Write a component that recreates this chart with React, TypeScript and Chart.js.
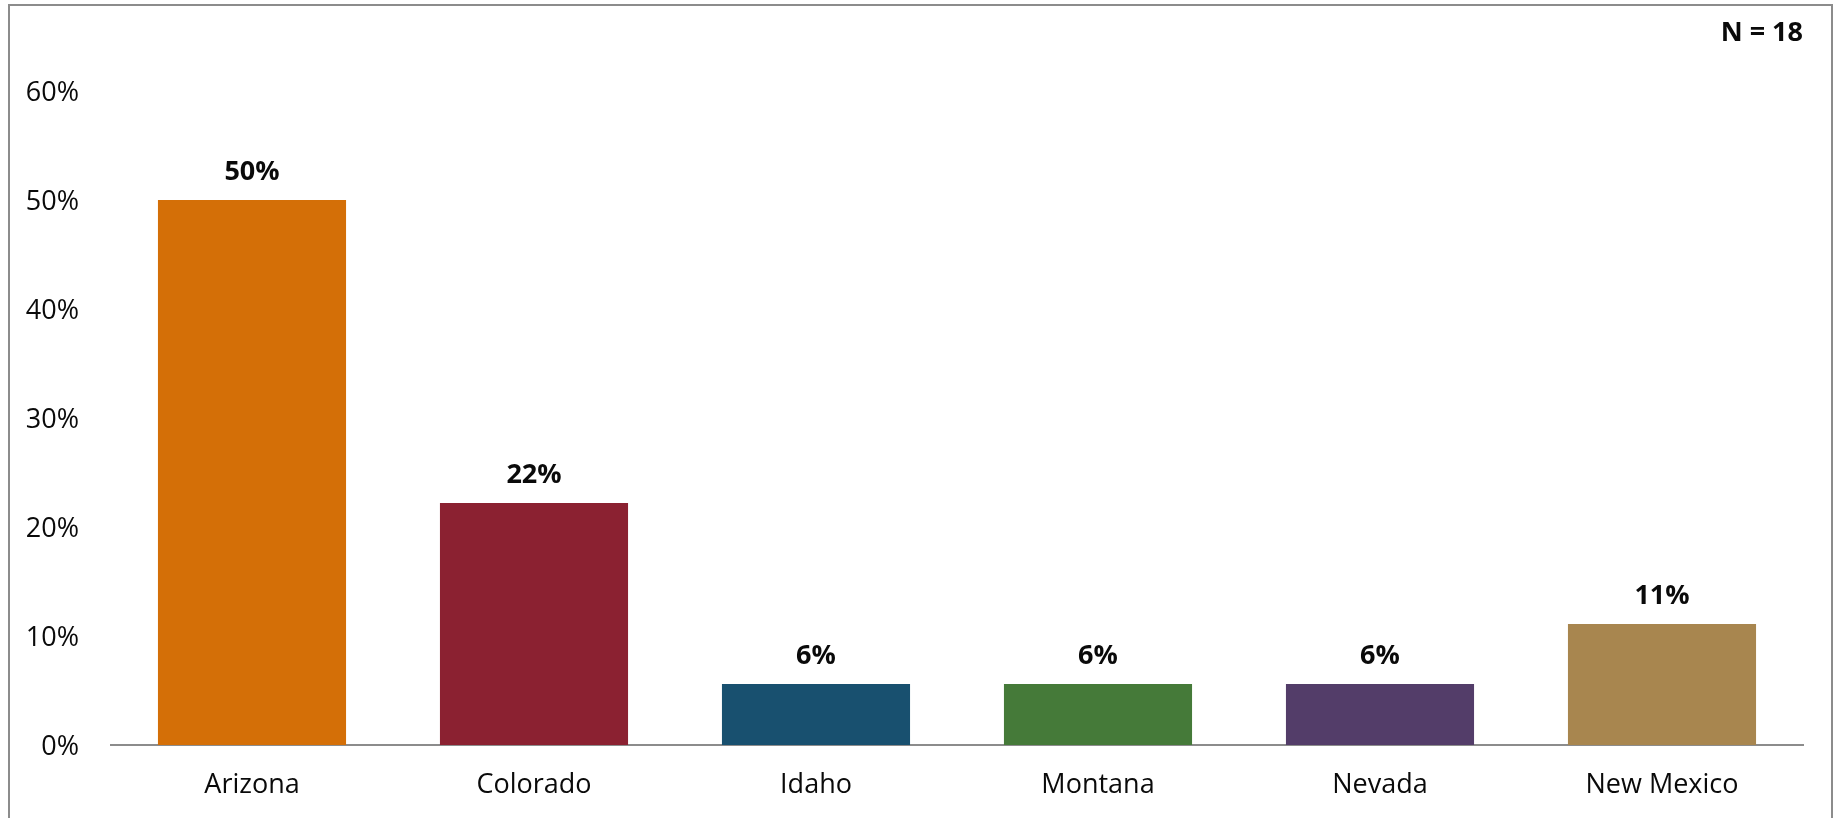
import React, { useEffect, useRef } from "react";
import { Chart, registerables } from "chart.js";

Chart.register(...registerables);

const categories = ["Arizona", "Colorado", "Idaho", "Montana", "Nevada", "New Mexico"];
const percentValues = [50.0, 22.2, 5.6, 5.6, 5.6, 11.1];
const barColors = ["#D46F07", "#8B2131", "#18506F", "#457A39", "#533D69", "#A8864F"];
const yTicks = [0, 10, 20, 30, 40, 50, 60];
const sampleLabel = "N = 18";

const FONT = "'Open Sans', 'Noto Sans', sans-serif";
const TEXT = "#0a0a0a";

const labelPlugin = {
  id: "valueLabels",
  afterDatasetsDraw(chart: any) {
    const ctx = chart.ctx;
    const meta = chart.getDatasetMeta(0);
    ctx.save();
    ctx.font = `bold 27px ${FONT}`;
    ctx.fillStyle = TEXT;
    ctx.textAlign = "center";
    ctx.textBaseline = "middle";
    meta.data.forEach((bar: any, i: number) => {
      ctx.fillText(`${Math.round(percentValues[i])}%`, bar.x, bar.y - 28);
    });
    ctx.textAlign = "right";
    ctx.fillText(sampleLabel, chart.chartArea.right, 27);
    ctx.restore();
  },
};

export default function App() {
  const ref = useRef<HTMLCanvasElement | null>(null);

  useEffect(() => {
    if (!ref.current) return;
    const chart = new Chart(ref.current, {
      type: "bar",
      data: {
        labels: categories,
        datasets: [
          {
            data: percentValues,
            backgroundColor: barColors,
            borderWidth: 0,
            categoryPercentage: 1,
            barPercentage: 0.667,
          },
        ],
      },
      options: {
        responsive: false,
        animation: false,
        layout: { padding: { top: 85, right: 28, left: 0, bottom: 0 } },
        plugins: {
          legend: { display: false },
          tooltip: { enabled: false },
          title: { display: false },
        },
        scales: {
          x: {
            grid: { display: false, drawTicks: false },
            border: { display: true, color: "#8c8c8c", width: 2 },
            ticks: {
              color: TEXT,
              font: { family: FONT, size: 27 },
              padding: 24,
              maxRotation: 0,
              autoSkip: false,
            },
            afterFit: (s: any) => {
              s.height = 73;
            },
          },
          y: {
            min: 0,
            max: 60,
            grid: { display: false, drawTicks: false },
            border: { display: false },
            afterBuildTicks: (s: any) => {
              s.ticks = yTicks.map((v) => ({ value: v }));
            },
            ticks: {
              color: TEXT,
              font: { family: FONT, size: 27 },
              padding: 32,
              labelOffset: 2,
              callback: (v: any) => `${v}%`,
            },
            afterFit: (s: any) => {
              s.width = 101;
            },
          },
        },
      },
      plugins: [labelPlugin],
    });
    return () => chart.destroy();
  }, []);

  return (
    <div
      style={{
        position: "absolute",
        left: 8,
        top: 4,
        width: 1825,
        height: 814,
        boxSizing: "border-box",
        border: "2px solid #8c8c8c",
        borderBottom: "none",
        background: "#fff",
        overflow: "hidden",
      }}
    >
      <canvas ref={ref} width={1821} height={812} style={{ display: "block" }} />
    </div>
  );
}
